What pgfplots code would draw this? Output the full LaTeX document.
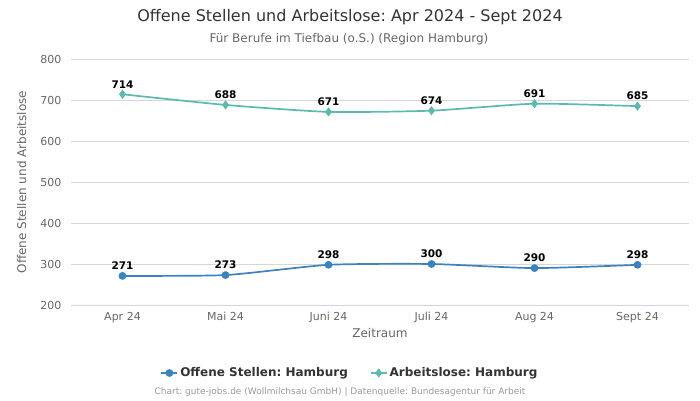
\documentclass[border=0pt]{standalone}
\usepackage{pgfplots}
\pgfplotsset{compat=1.18}
\usepackage{fontspec}
\setmainfont{DejaVu Sans}
\frenchspacing
\definecolor{cblue}{HTML}{3A83C0}
\definecolor{cteal}{HTML}{5BBAB0}
\definecolor{ctxt}{HTML}{333333}
\definecolor{cgray}{HTML}{666666}
\definecolor{cfoot}{HTML}{999999}
\definecolor{cgrid}{HTML}{D6D6D6}
\definecolor{caxis}{HTML}{CCD6EB}
\begin{document}
\begin{tikzpicture}[x=1pt,y=1pt]
\useasboundingbox (0,0) rectangle (700,400);
\node[text=ctxt,font=\fontsize{16}{19}\selectfont] at (350,383) {Offene Stellen und Arbeitslose: Apr 2024 - Sept 2024};
\node[text=cgray,font=\fontsize{12}{14}\selectfont] at (349,361) {Für Berufe im Tiefbau (o.S.) (Region Hamburg)};
\begin{axis}[
  at={(71pt,95pt)}, anchor=south west,
  scale only axis, width=618pt, height=246pt,
  xmin=-0.5, xmax=5.5, ymin=200, ymax=800,
  xtick={0,1,2,3,4,5},
  xticklabels={Apr 24,Mai 24,Juni 24,Juli 24,Aug 24,Sept 24},
  ytick={200,300,400,500,600,700,800},
  /pgf/number format/assume math mode=true,
  tick label style={text=cgray,font=\fontsize{11}{13}\selectfont},
  major tick length=0pt,
  ymajorgrids, grid style={cgrid,line width=0.8pt},
  axis x line*=bottom, axis y line*=left,
  x axis line style={caxis,line width=0.8pt,-},
  y axis line style={draw=none},
  xlabel={Zeitraum}, ylabel={Offene Stellen und Arbeitslose},
  xlabel style={text=cgray,font=\fontsize{12}{14}\selectfont,yshift=2pt},
  every axis y label/.style={at={(axis description cs:-0.08,0.5)},rotate=90,anchor=center,text=cgray,font=\fontsize{12}{14}\selectfont},
  xticklabel style={yshift=-4pt},
  yticklabel style={xshift=-6pt},
  nodes near coords,
  every node near coord/.append style={text=black,font=\bfseries\fontsize{10.5}{12}\selectfont,yshift=2pt},
  legend style={at={(279pt,-68pt)},anchor=center,draw=none,fill=none,
     font=\bfseries\fontsize{12}{14}\selectfont,text=ctxt,
     /tikz/every even column/.append style={column sep=20pt}},
  legend columns=2,
  legend image code/.code={\draw[#1,mark repeat=2,mark phase=2] plot coordinates {(0pt,0pt) (8pt,0pt) (16pt,0pt)};},
]
\addplot[cblue,line width=1.7pt,smooth,tension=0.35,mark=*,mark size=3pt,mark options={solid,fill=cblue,draw=cblue}]
 coordinates {(0,271) (1,273) (2,298) (3,300) (4,290) (5,298)};
\addlegendentry{Offene Stellen: Hamburg}
\addplot[cteal,line width=1.7pt,smooth,tension=0.35,mark=diamond*,mark size=3.2pt,mark options={solid,fill=cteal,draw=cteal}]
 coordinates {(0,714) (1,688) (2,671) (3,674) (4,691) (5,685)};
\addlegendentry{Arbeitslose: Hamburg}
\end{axis}
\node[text=cfoot,font=\fontsize{9}{11}\selectfont] at (340,8) {Chart: gute-jobs.de (Wollmilchsau GmbH) | Datenquelle: Bundesagentur für Arbeit};
\end{tikzpicture}
\end{document}
